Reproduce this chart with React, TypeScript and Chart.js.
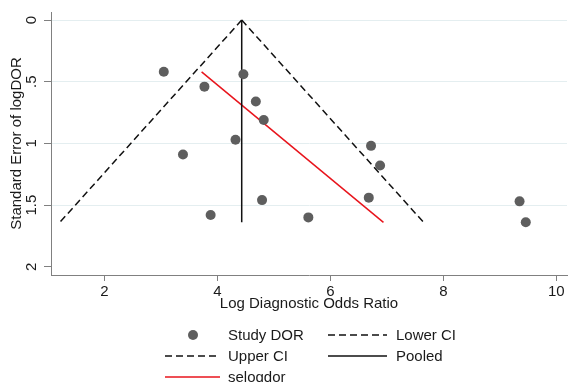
import React, { useEffect, useRef } from "react";
import { Chart, registerables } from "chart.js";

Chart.register(...registerables);

// ---- data ----
const studyLogDOR = [3.05, 3.77, 4.46, 4.68, 4.82, 4.32, 3.39, 6.72, 6.88, 6.68, 4.79, 3.88, 5.61, 9.35, 9.46];
const studySE = [0.42, 0.54, 0.44, 0.66, 0.81, 0.97, 1.09, 1.02, 1.18, 1.44, 1.46, 1.58, 1.6, 1.47, 1.64];

const lowerCIX = [4.43, 1.21];
const lowerCISE = [0, 1.64];
const upperCIX = [4.43, 7.65];
const upperCISE = [0, 1.64];
const pooledX = [4.43, 4.43];
const pooledSE = [0, 1.64];
const selogdorX = [3.72, 6.94];
const selogdorSE = [0.42, 1.64];

const xTicks = [2, 4, 6, 8, 10];
const yTicks = [0, 0.5, 1, 1.5, 2];
const yTickLabels = ["0", ".5", "1", "1.5", "2"];

const X_MIN = 1.053;
const X_MAX = 10.19;
const Y_MIN = -0.065;
const Y_MAX = 2.067;

const FONT = '"Liberation Sans", Arial, Helvetica, sans-serif';

const pairs = (xs: number[], ys: number[]) => xs.map((x, i) => ({ x, y: ys[i] }));

const legendPlugin = {
  id: "stataLegend",
  afterDraw(chart: any) {
    const ctx = chart.ctx as CanvasRenderingContext2D;
    const ds = chart.data.datasets;
    const items = [
      { i: 0, x0: 165, x1: 220, tx: 228, y: 335 },
      { i: 1, x0: 328, x1: 387, tx: 396, y: 335 },
      { i: 2, x0: 165, x1: 220, tx: 228, y: 356 },
      { i: 3, x0: 328, x1: 387, tx: 396, y: 356 },
      { i: 4, x0: 165, x1: 220, tx: 228, y: 377 },
    ];
    ctx.save();
    ctx.font = "15px " + FONT;
    ctx.textBaseline = "middle";
    ctx.textAlign = "left";
    for (const it of items) {
      const d = ds[it.i];
      if (d.showLine === false) {
        ctx.beginPath();
        ctx.fillStyle = d.pointBackgroundColor;
        ctx.arc((it.x0 + it.x1) / 2 + 0.5, it.y, d.pointRadius, 0, Math.PI * 2);
        ctx.fill();
      } else {
        ctx.beginPath();
        ctx.strokeStyle = d.borderColor;
        ctx.lineWidth = d.borderWidth;
        ctx.setLineDash(d.borderDash || []);
        ctx.moveTo(it.x0, it.y);
        ctx.lineTo(it.x1, it.y);
        ctx.stroke();
        ctx.setLineDash([]);
      }
      ctx.fillStyle = "#1a1a1a";
      ctx.fillText(d.label, it.tx, it.y + 1);
    }
    ctx.restore();
  },
};

export default function App() {
  const ref = useRef<HTMLCanvasElement | null>(null);

  useEffect(() => {
    if (!ref.current) return;
    Chart.defaults.font.family = FONT;
    const chart = new Chart(ref.current, {
      type: "scatter",
      data: {
        datasets: [
          {
            label: "Study DOR",
            data: pairs(studyLogDOR, studySE),
            showLine: false,
            pointRadius: 5,
            pointBackgroundColor: "#5e5e5e",
            pointBorderColor: "#5e5e5e",
            pointBorderWidth: 0,
            order: 0,
          },
          {
            label: "Lower CI",
            data: pairs(lowerCIX, lowerCISE),
            showLine: true,
            borderColor: "#111111",
            borderWidth: 1.5,
            borderDash: [7, 4],
            pointRadius: 0,
            order: 1,
          },
          {
            label: "Upper CI",
            data: pairs(upperCIX, upperCISE),
            showLine: true,
            borderColor: "#111111",
            borderWidth: 1.5,
            borderDash: [7, 4],
            pointRadius: 0,
            order: 1,
          },
          {
            label: "Pooled",
            data: pairs(pooledX, pooledSE),
            showLine: true,
            borderColor: "#111111",
            borderWidth: 1.5,
            pointRadius: 0,
            order: 1,
          },
          {
            label: "selogdor",
            data: pairs(selogdorX, selogdorSE),
            showLine: true,
            borderColor: "#e8141c",
            borderWidth: 1.5,
            pointRadius: 0,
            order: 1,
          },
        ] as any,
      },
      options: {
        animation: false,
        responsive: false,
        maintainAspectRatio: false,
        layout: { padding: { top: 12, left: 0, right: 0, bottom: 0 } },
        plugins: {
          legend: { display: false },
          tooltip: { enabled: false },
        },
        scales: {
          x: {
            type: "linear",
            position: "bottom",
            min: X_MIN,
            max: X_MAX,
            afterBuildTicks: (s: any) => {
              s.ticks = xTicks.map((v) => ({ value: v }));
            },
            afterFit: (s: any) => {
              s.height = 107;
            },
            grid: {
              drawOnChartArea: false,
              tickLength: 6,
              tickColor: "#808080",
              tickWidth: 1,
            },
            border: { color: "#808080", width: 1 },
            ticks: {
              font: { size: 15 },
              color: "#1a1a1a",
              padding: 2,
              maxRotation: 0,
              callback: (v: any) => String(v),
            },
            title: {
              display: true,
              text: "Log Diagnostic Odds Ratio",
              font: { size: 15 },
              color: "#1a1a1a",
              padding: { top: 0, bottom: 69 },
            },
          },
          y: {
            type: "linear",
            reverse: true,
            min: Y_MIN,
            max: Y_MAX,
            afterBuildTicks: (s: any) => {
              s.ticks = yTicks.map((v) => ({ value: v }));
            },
            afterFit: (s: any) => {
              s.width = 51;
            },
            grid: {
              color: (c: any) => (c.tick && c.tick.value === 2 ? "rgba(0,0,0,0)" : "#e4eef0"),
              tickColor: "#808080",
              tickLength: 7,
              lineWidth: 1,
            },
            border: { color: "#808080", width: 1 },
            ticks: {
              font: { size: 15 },
              color: "#1a1a1a",
              padding: 2,
              minRotation: 90,
              maxRotation: 90,
              crossAlign: "center",
              callback: (v: any) => {
                const k = yTicks.indexOf(Number(v));
                return k >= 0 ? yTickLabels[k] : "";
              },
            },
            title: {
              display: true,
              text: "Standard Error of logDOR",
              font: { size: 15 },
              color: "#1a1a1a",
              padding: { top: 8, bottom: 0 },
            },
          },
        },
      } as any,
      plugins: [legendPlugin],
    });
    return () => chart.destroy();
  }, []);

  return (
    <div style={{ position: "fixed", left: 0, top: 0, width: 572, height: 382, background: "#fff" }}>
      <canvas ref={ref} width={572} height={382} style={{ display: "block", width: 572, height: 382 }} />
    </div>
  );
}
